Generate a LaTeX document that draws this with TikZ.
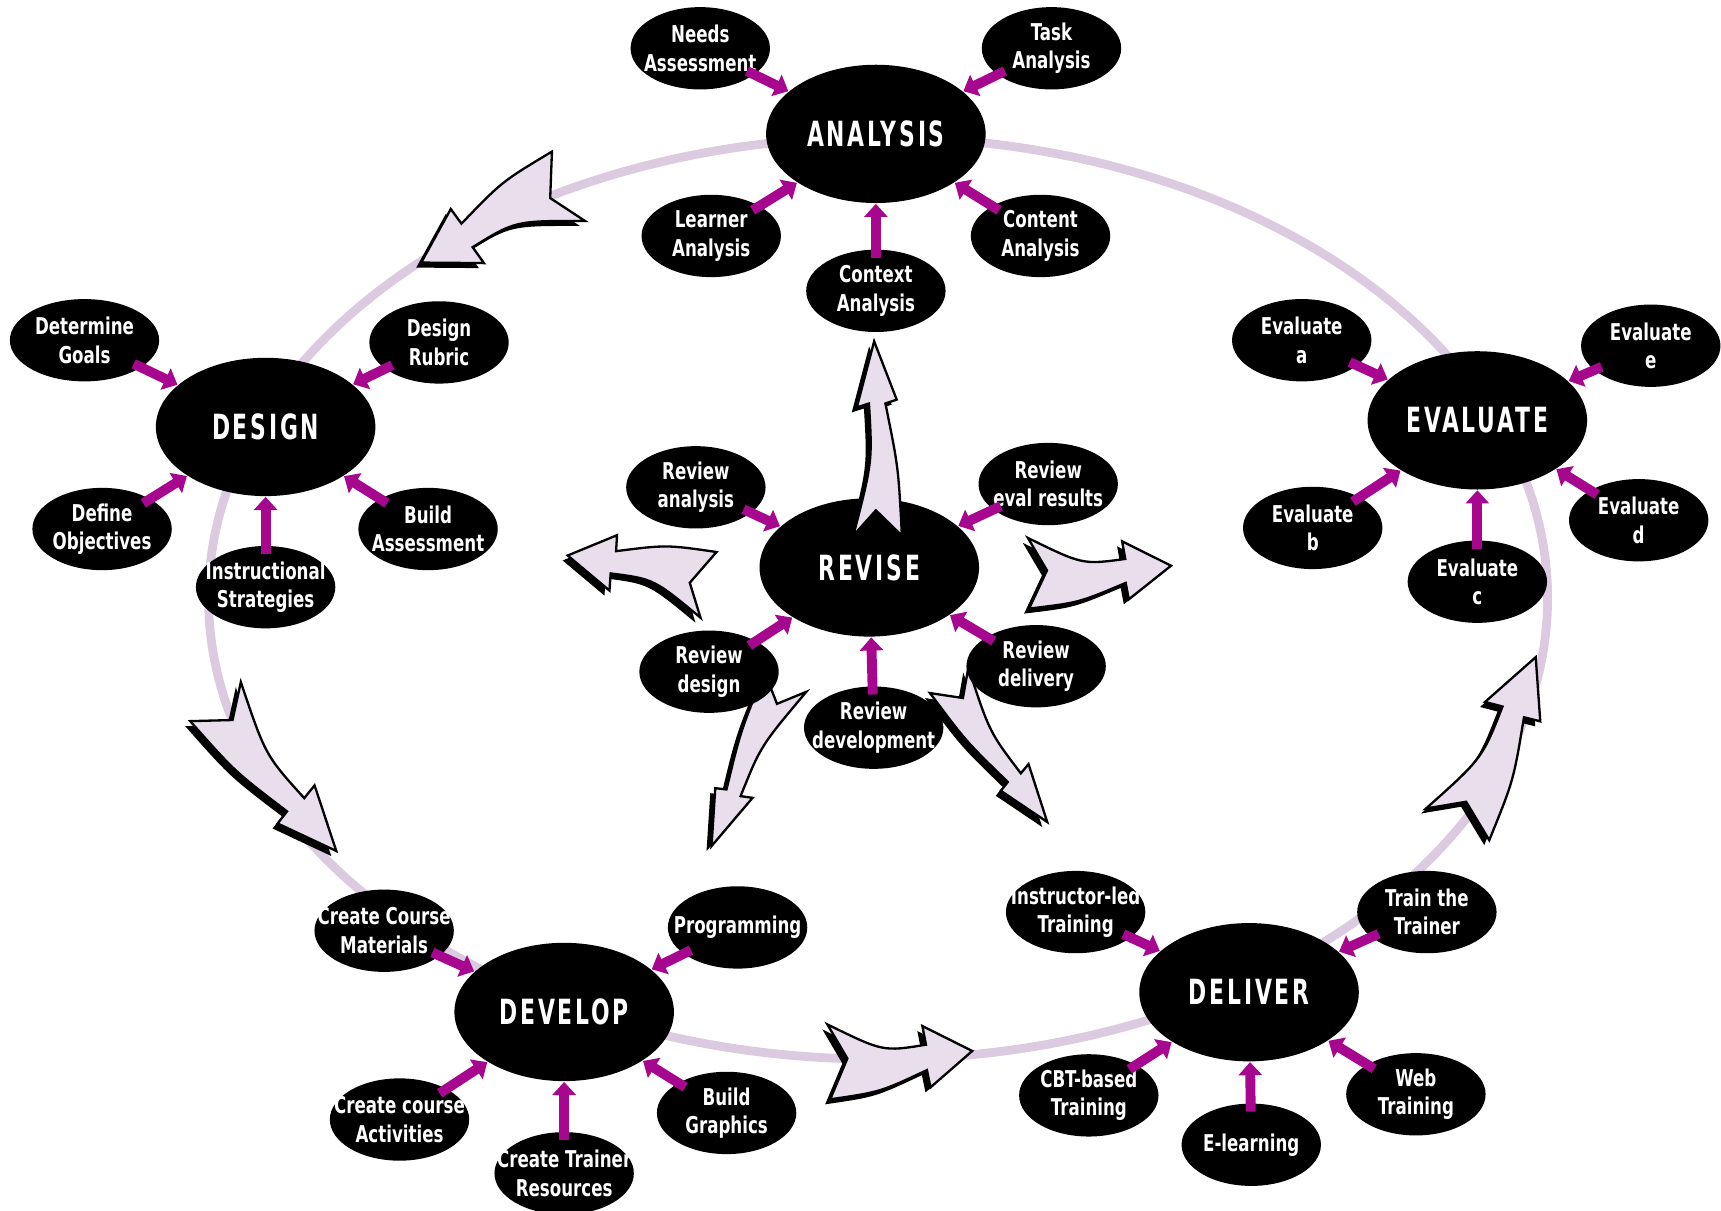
\documentclass[tikz,border=0pt]{standalone}
\usepackage{fontspec}
\usepackage{tikz}
\usetikzlibrary{arrows.meta, shapes.geometric, shadows}
\newfontfamily\labelfont{DejaVu Sans}[FakeStretch=0.72]
\newfontfamily\phasefont{DejaVu Sans}[FakeStretch=0.63, LetterSpace=8]
\definecolor{SpokeMagenta}{HTML}{A6078E}
\definecolor{RingLilac}{HTML}{DCCAE1}
\definecolor{ArrowLilac}{HTML}{E8DEEC}

\begin{document}
\begin{tikzpicture}[>={Triangle[length=0.12cm, width=0.21cm]},
    phase/.style={ellipse, fill=black, text=white, minimum width=2.0cm, minimum height=1.26cm, inner sep=-3mm, font=\phasefont\bfseries\fontsize{9}{10}\selectfont},
    subtask/.style={ellipse, fill=black, text=white, align=center, minimum width=1.27cm, minimum height=0.75cm, inner sep=-3mm, font=\labelfont\bfseries\fontsize{6}{7.4}\selectfont},
    spoke/.style={->, line width=0.09cm, color=SpokeMagenta, shorten <=-0.08cm},
    bigarrow/.pic={
        \filldraw[fill=ArrowLilac, draw=black, line width=0.6pt, drop shadow={fill=black, opacity=1, shadow xshift=-1.3pt, shadow yshift=-1.3pt}]
            (0,0.26) -- (0.13,0) -- (0,-0.30) .. controls (0.35,-0.26) .. (0.68,-0.11) -- (0.70,-0.24) -- (1,0.02) -- (0.66,0.22) -- (0.68,0.08) .. controls (0.38,0.04) .. (0,0.26) -- cycle;
    }]
    \useasboundingbox (0,0) rectangle (15.68,11.03);

    % The cycle ring
    \draw[RingLilac, line width=0.08cm] (8.00,5.58) ellipse (6.10 and 4.20);

    % Arrows along the ring
    \pic[rotate=205.5, xscale=1.51, yscale=1.25] at (5.19,9.31) {bigarrow};
    \pic[rotate=-52.4, xscale=1.75, yscale=1.04] at (1.98,4.65) {bigarrow};
    \pic[rotate=2.2, xscale=1.31, yscale=1.22] at (7.55,1.38) {bigarrow};
    \pic[rotate=63.4, xscale=1.68, yscale=1.15] at (13.26,3.53) {bigarrow};

    % Phases
    \node[phase] (analysis) at (7.98,9.81) {ANALYSIS};
    \node[phase] (design) at (2.42,7.14) {DESIGN};
    \node[phase] (evaluate) at (13.46,7.20) {EVALUATE};
    \node[phase] (revise) at (7.92,5.86) {REVISE};
    \node[phase] (develop) at (5.14,1.81) {DEVELOP};
    \node[phase] (deliver) at (11.38,1.99) {DELIVER};

    % Arrows out of revise
    \pic[rotate=90, xscale=1.77, yscale=0.79] at (7.98,6.15) {bigarrow};
    \pic[rotate=166.3, xscale=1.31, yscale=1.10] at (6.45,5.68) {bigarrow};
    \pic[rotate=1, xscale=1.30, yscale=1.15] at (9.37,5.83) {bigarrow};
    \pic[rotate=-115.3, xscale=1.64, yscale=0.75] at (7.17,4.81) {bigarrow};
    \pic[rotate=-56.4, xscale=1.57, yscale=0.75] at (8.66,4.84) {bigarrow};

    % Analysis tasks
    \node[subtask] (needs) at (6.38,10.59) {Needs\\Assessment};
    \node[subtask] (task) at (9.58,10.59) {Task\\Analysis};
    \node[subtask] (learner) at (6.48,8.88) {Learner\\Analysis};
    \node[subtask] (context) at (7.98,8.38) {Context\\Analysis};
    \node[subtask] (content) at (9.48,8.88) {Content\\Analysis};
    \draw[spoke] (needs) -- (analysis);
    \draw[spoke] (task) -- (analysis);
    \draw[spoke] (learner) -- (analysis);
    \draw[spoke] (context) -- (analysis);
    \draw[spoke] (content) -- (analysis);

    % Design tasks
    \node[subtask, minimum width=1.36cm] (goals) at (0.77,7.93) {Determine\\Goals};
    \node[subtask] (rubric) at (4.00,7.91) {Design\\Rubric};
    \node[subtask] (objectives) at (0.93,6.21) {Define\\Objectives};
    \node[subtask] (strategies) at (2.42,5.68) {Instructional\\Strategies};
    \node[subtask] (buildassess) at (3.90,6.21) {Build\\Assessment};
    \draw[spoke] (goals) -- (design);
    \draw[spoke] (rubric) -- (design);
    \draw[spoke] (objectives) -- (design);
    \draw[spoke] (strategies) -- (design);
    \draw[spoke] (buildassess) -- (design);

    % Evaluate tasks
    \node[subtask] (evala) at (11.86,7.93) {Evaluate\\a};
    \node[subtask] (evale) at (15.04,7.88) {Evaluate\\e};
    \node[subtask] (evalb) at (11.96,6.22) {Evaluate\\b};
    \node[subtask] (evalc) at (13.46,5.73) {Evaluate\\c};
    \node[subtask] (evald) at (14.93,6.29) {Evaluate\\d};
    \draw[spoke] (evala) -- (evaluate);
    \draw[spoke] (evale) -- (evaluate);
    \draw[spoke] (evalb) -- (evaluate);
    \draw[spoke] (evalc) -- (evaluate);
    \draw[spoke] (evald) -- (evaluate);

    % Revise tasks
    \node[subtask] (revanalysis) at (6.34,6.59) {Review\\analysis};
    \node[subtask] (reveval) at (9.55,6.62) {Review\\eval results};
    \node[subtask] (revdesign) at (6.46,4.91) {Review\\design};
    \node[subtask] (revdevelop) at (7.96,4.40) {Review\\development};
    \node[subtask] (revdeliver) at (9.44,4.96) {Review\\delivery};
    \draw[spoke] (revanalysis) -- (revise);
    \draw[spoke] (reveval) -- (revise);
    \draw[spoke] (revdesign) -- (revise);
    \draw[spoke] (revdevelop) -- (revise);
    \draw[spoke] (revdeliver) -- (revise);

    % Develop tasks
    \node[subtask] (materials) at (3.50,2.55) {Create Course\\Materials};
    \node[subtask] (programming) at (6.72,2.58) {Programming};
    \node[subtask] (activities) at (3.64,0.83) {Create course\\Activities};
    \node[subtask] (trainerres) at (5.14,0.34) {Create Trainer\\Resources};
    \node[subtask] (graphics) at (6.62,0.89) {Build\\Graphics};
    \draw[spoke] (materials) -- (develop);
    \draw[spoke] (programming) -- (develop);
    \draw[spoke] (activities) -- (develop);
    \draw[spoke] (trainerres) -- (develop);
    \draw[spoke] (graphics) -- (develop);

    % Deliver tasks
    \node[subtask] (instructor) at (9.80,2.72) {Instructor-led\\Training};
    \node[subtask] (trainthe) at (13.00,2.72) {Train the\\Trainer};
    \node[subtask] (cbt) at (9.92,1.05) {CBT-based\\Training};
    \node[subtask] (elearning) at (11.40,0.60) {E-learning};
    \node[subtask] (web) at (12.90,1.06) {Web\\Training};
    \draw[spoke] (instructor) -- (deliver);
    \draw[spoke] (trainthe) -- (deliver);
    \draw[spoke] (cbt) -- (deliver);
    \draw[spoke] (elearning) -- (deliver);
    \draw[spoke] (web) -- (deliver);
\end{tikzpicture}
\end{document}
